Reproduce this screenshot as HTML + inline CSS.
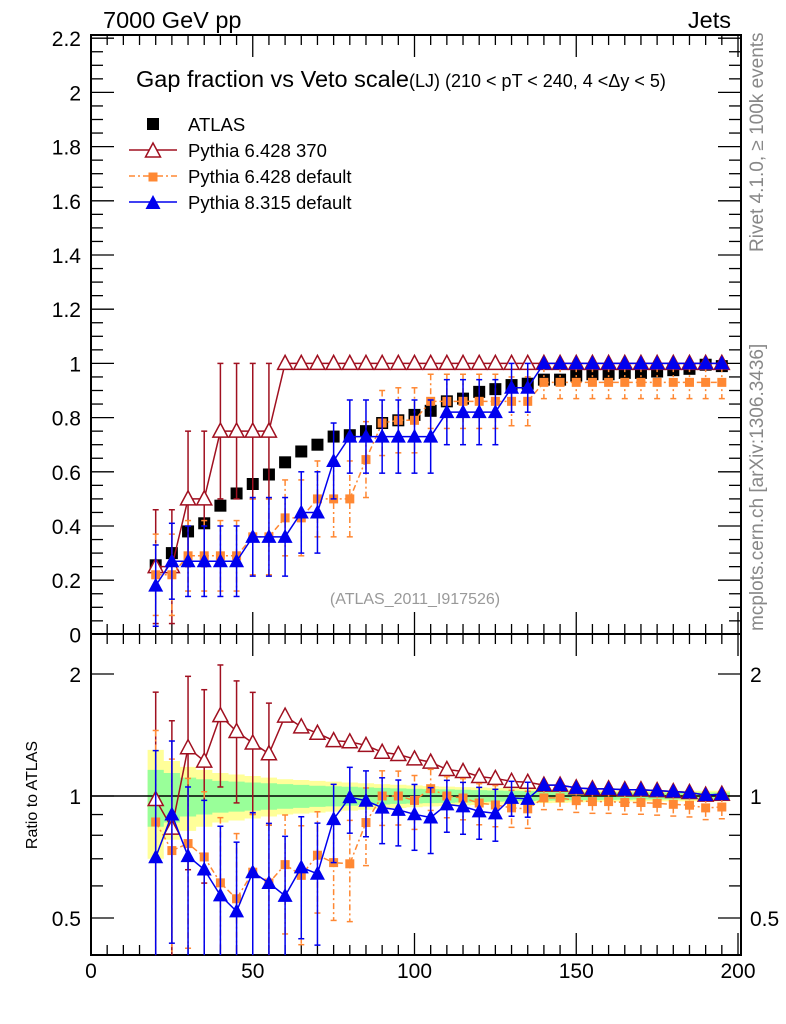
<!DOCTYPE html>
<html><head><meta charset="utf-8"><style>
body{margin:0;background:#fff;}
svg{display:block;font-family:"Liberation Sans",sans-serif;}
</style></head><body>
<svg id="plot" width="786" height="1024" viewBox="0 0 786 1024" xmlns="http://www.w3.org/2000/svg">
<text x="103" y="28" font-size="23.5">7000 GeV pp</text>
<text x="731" y="28" font-size="23.5" text-anchor="end">Jets</text>
<text x="136" y="87" font-size="23.5">Gap fraction vs Veto scale<tspan font-size="18">(LJ) (210 &lt; pT &lt; 240, 4 &lt;Δy &lt; 5)</tspan></text>
<text x="415" y="604" font-size="16" fill="#999" text-anchor="middle">(ATLAS_2011_I917526)</text>
<text transform="translate(763,252) rotate(-90)" font-size="19" fill="#888">Rivet 4.1.0, ≥ 100k events</text>
<text transform="translate(763,631) rotate(-90)" font-size="19" fill="#888">mcplots.cern.ch [arXiv:1306.3436]</text>
<text transform="translate(37,795) rotate(-90)" font-size="16" text-anchor="middle">Ratio to ATLAS</text>
<g id="legend"></g>
</svg>
<script>
const xs=[20,25,30,35,40,45,50,55,60,65,70,75,80,85,90,95,100,105,110,115,120,125,130,135,140,145,150,155,160,165,170,175,180,185,190,195];
const atlas=[0.255,0.30,0.38,0.41,0.475,0.52,0.555,0.59,0.635,0.675,0.70,0.73,0.735,0.75,0.78,0.79,0.81,0.825,0.86,0.87,0.895,0.905,0.92,0.925,0.94,0.94,0.955,0.96,0.96,0.965,0.965,0.97,0.975,0.98,0.995,0.99];
const yellowRel=[0.30,0.22,0.18,0.16,0.14,0.13,0.12,0.11,0.10,0.095,0.09,0.085,0.08,0.075,0.07,0.066,0.062,0.058,0.055,0.052,0.05,0.048,0.045,0.043,0.04,0.038,0.036,0.034,0.032,0.031,0.03,0.03,0.03,0.03,0.03,0.03];
const greenRel=[0.16,0.14,0.11,0.10,0.09,0.085,0.08,0.075,0.07,0.065,0.06,0.057,0.054,0.05,0.047,0.044,0.042,0.04,0.038,0.036,0.034,0.032,0.03,0.028,0.026,0.025,0.024,0.023,0.022,0.021,0.02,0.02,0.02,0.02,0.02,0.02];
const py6370=[0.25,0.25,0.50,0.50,0.75,0.75,0.75,0.75,1,1,1,1,1,1,1,1,1,1,1,1,1,1,1,1,1,1,1,1,1,1,1,1,1,1,1,1];
const py6370Err=[0.21,0.21,0.25,0.25,0.25,0.25,0.25,0.25,0,0,0,0,0,0,0,0,0,0,0,0,0,0,0,0,0,0,0,0,0,0,0,0,0,0,0,0];
const py6def=[0.22,0.22,0.29,0.29,0.29,0.29,0.36,0.36,0.43,0.43,0.50,0.50,0.50,0.645,0.78,0.79,0.79,0.86,0.86,0.86,0.86,0.86,0.86,0.86,0.93,0.93,0.93,0.93,0.93,0.93,0.93,0.93,0.93,0.93,0.93,0.93];
const py6defErr=[0.15,0.15,0.13,0.13,0.13,0.13,0.14,0.14,0.14,0.14,0.14,0.14,0.14,0.14,0.12,0.12,0.12,0.1,0.1,0.1,0.1,0.1,0.09,0.09,0.06,0.06,0.06,0.06,0.06,0.06,0.06,0.06,0.06,0.06,0.06,0.06];
const py8=[0.18,0.27,0.27,0.27,0.27,0.27,0.36,0.36,0.36,0.45,0.45,0.64,0.73,0.73,0.73,0.73,0.73,0.73,0.82,0.82,0.82,0.82,0.91,0.91,1,1,1,1,1,1,1,1,1,1,1,1];
const py8Err=[0.15,0.14,0.13,0.13,0.13,0.13,0.145,0.145,0.145,0.15,0.15,0.14,0.135,0.135,0.135,0.135,0.135,0.135,0.12,0.12,0.12,0.12,0.09,0.09,0,0,0,0,0,0,0,0,0,0,0,0];
const yTicks=[0,0.2,0.4,0.6,0.8,1,1.2,1.4,1.6,1.8,2,2.2];
const xTicks=[0,50,100,150,200];
const rTicks=[0.5,1,2];

const NS='http://www.w3.org/2000/svg';
const svg=document.getElementById('plot');
const L=91,R=741,T=35,MB=634,RB=955;
const X=v=>L+v*(R-L-3)/200;
const Y=v=>634.4-v*271;
const RY=r=>796-Math.log2(r)*122;
function el(tag,attrs,parent){const e=document.createElementNS(NS,tag);for(const k in attrs)e.setAttribute(k,attrs[k]);(parent||svg).appendChild(e);return e;}
const bands=el('g',{});


function band(rel,color,name){let d='';xs.forEach((x,i)=>{const x0=X(x-2.5),x1=X(x+2.5);const y0=RY(1+rel[i]),y1=RY(Math.max(0.41,1-rel[i]));d+=`M${x0},${y0}H${x1}V${y1}H${x0}Z`;});const p=el('path',{d:d,fill:color},bands);}
band(yellowRel,'#ffff99','atlas-total-band');
band(greenRel,'#99ff99','atlas-stat-band');
const one=el('line',{x1:L,x2:R,y1:RY(1),y2:RY(1),stroke:'#000','stroke-width':1.5});


const f1=el('rect',{x:L,y:T,width:R-L,height:MB-T,fill:'none',stroke:'#000','stroke-width':2});


const f2=el('rect',{x:L,y:MB,width:R-L,height:RB-MB,fill:'none',stroke:'#000','stroke-width':2});


const tg=el('g',{stroke:'#000','stroke-width':1.3});


for(let v=0;v<=200;v+=5){const len=v%50==0?22:10;const x=X(v);el('line',{x1:x,x2:x,y1:MB,y2:MB-len},tg);el('line',{x1:x,x2:x,y1:T,y2:T+len},tg);el('line',{x1:x,x2:x,y1:RB,y2:RB-len},tg);el('line',{x1:x,x2:x,y1:MB,y2:MB+len},tg);}
for(let v=0;v<=2.2001;v+=0.05){const maj=Math.abs(v/0.2-Math.round(v/0.2))<1e-6;const len=maj?23:12;const y=Y(v);if(y<T-1)continue;el('line',{x1:L,x2:L+len,y1:y,y2:y},tg);el('line',{x1:R,x2:R-len,y1:y,y2:y},tg);}
[0.5,0.6,0.7,0.8,0.9,1,2].forEach(r=>{const maj=rTicks.includes(r);const len=maj?23:12;const y=RY(r);el('line',{x1:L,x2:L+len,y1:y,y2:y},tg);el('line',{x1:R,x2:R-len,y1:y,y2:y},tg);});
yTicks.forEach(v=>{const t=el('text',{x:81,y:Y(v)+8,'font-size':21,'text-anchor':'end'});t.textContent=(Math.round(v*10)/10).toString();});
xTicks.forEach(v=>{const t=el('text',{x:X(v),y:978,'font-size':21,'text-anchor':'middle'});t.textContent=v;});
rTicks.forEach(r=>{const t=el('text',{x:81,y:RY(r)+8,'font-size':21,'text-anchor':'end'});t.textContent=r;
const t2=el('text',{x:750,y:RY(r)+8,'font-size':21});t2.textContent=r;});
function marker(g,type,x,y,color){if(type==='sq'){el('rect',{x:x-6,y:y-6,width:12,height:12,fill:color},g);}else if(type==='sqs'){el('rect',{x:x-4.5,y:y-4.5,width:9,height:9,fill:color},g);}else if(type==='tri'){el('path',{d:`M${x},${y-8}L${x+7.5},${y+6}L${x-7.5},${y+6}Z`,fill:color},g);}else{el('path',{d:`M${x},${y-8}L${x+7.5},${y+6}L${x-7.5},${y+6}Z`,fill:'#fff',stroke:color,'stroke-width':1.5},g);}}
function series(name,vals,errs,color,type,dash){
 const g=el('g',{});
 let d='',dr='';
 xs.forEach((x,i)=>{const px=X(x);d+=(i?'L':'M')+px+','+Y(vals[i]);dr+=(i?'L':'M')+px+','+RY(Math.max(0.3,vals[i]/atlas[i]));});
 const sa={fill:'none',stroke:color,'stroke-width':1.5};if(dash)sa['stroke-dasharray']=dash;
 sa.d=d;el('path',sa,g);const sb=Object.assign({},sa);sb.d=dr;el('path',sb,g);
 xs.forEach((x,i)=>{const px=X(x);const e=errs[i];if(e>0){const ea={stroke:color,'stroke-width':1.5};if(dash)ea['stroke-dasharray']=dash;
  el('line',Object.assign({x1:px,x2:px,y1:Y(vals[i]+e),y2:Y(vals[i]-e)},ea),g);
  el('line',{x1:px-3,x2:px+3,y1:Y(vals[i]+e),y2:Y(vals[i]+e),stroke:color,'stroke-width':1.5},g);
  el('line',{x1:px-3,x2:px+3,y1:Y(vals[i]-e),y2:Y(vals[i]-e),stroke:color,'stroke-width':1.5},g);
  const rt=Math.min(2.5,(vals[i]+e)/atlas[i]),rb=Math.max(0.405,(vals[i]-e)/atlas[i]);
  el('line',Object.assign({x1:px,x2:px,y1:RY(rt),y2:RY(rb)},ea),g);
  if(rt<2.5)el('line',{x1:px-3,x2:px+3,y1:RY(rt),y2:RY(rt),stroke:color,'stroke-width':1.5},g);
  if(rb>0.405)el('line',{x1:px-3,x2:px+3,y1:RY(rb),y2:RY(rb),stroke:color,'stroke-width':1.5},g);}
  marker(g,type,px,Y(vals[i]),color);marker(g,type,px,RY(vals[i]/atlas[i]),color);});
}
const ag=el('g',{});


xs.forEach((x,i)=>marker(ag,'sq',X(x),Y(atlas[i]),'#000'));
series('pythia6-370-series',py6370,py6370Err,'#a01020','otri',null);
series('pythia6-default-series',py6def,py6defErr,'#ff8833','sqs','6,3,2,3');
series('pythia8-series',py8,py8Err,'#0000ee','tri',null);
const lg=document.getElementById('legend');
const items=[['ATLAS','#000','sq',null],['Pythia 6.428 370','#a01020','otri',null],['Pythia 6.428 default','#ff8833','sqs','6,3,2,3'],['Pythia 8.315 default','#0000ee','tri',null]];
items.forEach((it,i)=>{const y=124+i*26;const g=el('g',{},lg);
 if(i>0){const a={x1:129,x2:177,y1:y,y2:y,stroke:it[1],'stroke-width':1.5};if(it[3])a['stroke-dasharray']=it[3];el('line',a,g);}
 marker(g,it[2],153,it[2]==='sq'?y:y+1,it[1]);
 const t=el('text',{x:188,y:y+7,'font-size':18.5},g);t.textContent=it[0];});
</script>
</body></html>
